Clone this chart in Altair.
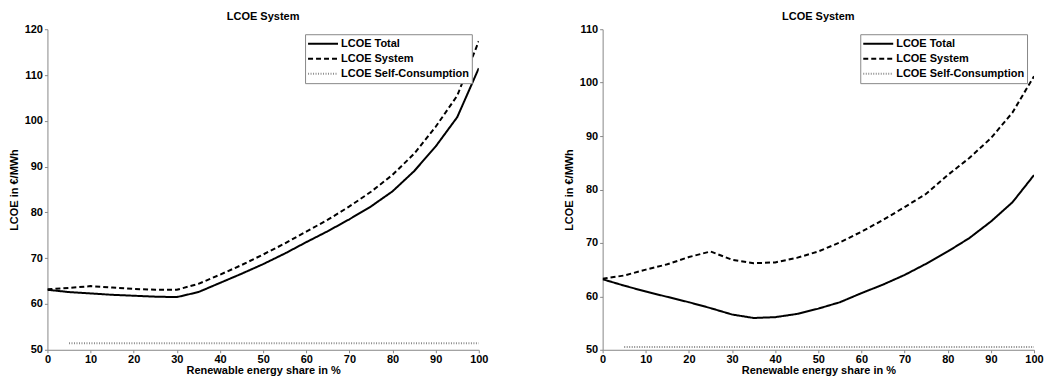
import altair as alt
import pandas as pd

share = [0, 5, 10, 15, 20, 25, 30, 35, 40, 45, 50, 55, 60, 65, 70, 75, 80, 85, 90, 95, 100]
self_share = [5, 10, 15, 20, 25, 30, 35, 40, 45, 50, 55, 60, 65, 70, 75, 80, 85, 90, 95, 100]

left_total = [63.1, 62.6, 62.3, 62.0, 61.8, 61.6, 61.5, 62.6, 64.6, 66.6, 68.7, 71.0, 73.5,
              75.9, 78.5, 81.3, 84.6, 89.0, 94.4, 100.8, 111.5]
left_system = [63.2, 63.5, 63.9, 63.6, 63.3, 63.1, 63.1, 64.4, 66.4, 68.5, 70.8, 73.2, 75.8,
               78.4, 81.3, 84.5, 88.2, 92.8, 98.7, 105.5, 117.4]
left_self = [51.4, 51.4, 51.4, 51.4, 51.4, 51.4, 51.4, 51.4, 51.4, 51.4, 51.4, 51.4, 51.4,
             51.4, 51.4, 51.4, 51.4, 51.4, 51.4, 51.4]

right_total = [63.2, 62.0, 60.9, 59.9, 58.9, 57.8, 56.6, 55.95, 56.1, 56.7, 57.7, 58.9, 60.6,
               62.2, 64.0, 66.1, 68.4, 70.9, 74.0, 77.6, 82.7]
right_system = [63.3, 63.9, 65.0, 66.0, 67.35, 68.4, 66.85, 66.2, 66.35, 67.2, 68.4, 70.1, 72.1,
                74.3, 76.7, 79.2, 82.7, 85.9, 89.6, 94.4, 101.2]
right_self = [50.5, 50.5, 50.5, 50.5, 50.5, 50.5, 50.5, 50.5, 50.5, 50.5, 50.5, 50.5, 50.5,
              50.5, 50.5, 50.5, 50.5, 50.5, 50.5, 50.5]

names = ["LCOE Total", "LCOE System", "LCOE Self-Consumption"]
x_ticks = [0, 10, 20, 30, 40, 50, 60, 70, 80, 90, 100]
left_y_ticks = [50, 60, 70, 80, 90, 100, 110, 120]
right_y_ticks = [50, 60, 70, 80, 90, 100, 110]


def long_df(total, system, selfc):
    rows = []
    for x, v in zip(share, total):
        rows.append({"share": x, "value": v, "series": names[0]})
    for x, v in zip(share, system):
        rows.append({"share": x, "value": v, "series": names[1]})
    for x, v in zip(self_share, selfc):
        rows.append({"share": x, "value": v, "series": names[2]})
    return pd.DataFrame(rows)


FONT = "Liberation Sans"


def make_legend():
    return alt.Legend(
        title=None, orient="none", legendX=258, legendY=5,
        symbolType="stroke", symbolSize=900, symbolStrokeWidth=2,
        labelFontSize=11, labelFontWeight="bold", labelFont=FONT, labelColor="#000",
        strokeColor="#888", fillColor="white", padding=2, rowPadding=0,
        clipHeight=15, labelLimit=250, labelOffset=2,
    )


def panel(df, ymax, yticks):
    return alt.Chart(df).mark_line(clip=True).encode(
        x=alt.X("share:Q", scale=alt.Scale(domain=[0, 100], nice=False),
                axis=alt.Axis(values=x_ticks, title="Renewable energy share in %")),
        y=alt.Y("value:Q", scale=alt.Scale(domain=[50, ymax], nice=False),
                axis=alt.Axis(values=yticks, title="LCOE in €/MWh")),
        color=alt.Color("series:N", sort=names,
                        scale=alt.Scale(domain=names, range=["#000000", "#000000", "#8c8c8c"]),
                        legend=make_legend()),
        strokeDash=alt.StrokeDash("series:N", sort=names,
                                  scale=alt.Scale(domain=names, range=[[1, 0], [5, 3], [1, 1.5]]),
                                  legend=make_legend()),
        strokeWidth=alt.StrokeWidth("series:N", sort=names,
                                    scale=alt.Scale(domain=names, range=[2, 2, 1.5]),
                                    legend=None),
        order=alt.Order("share:Q"),
    ).properties(
        width=432, height=321,
        title=alt.TitleParams("LCOE System", fontSize=11, fontWeight="bold", font=FONT,
                              color="#000", offset=1),
    )


left = panel(long_df(left_total, left_system, left_self), 120, left_y_ticks)
right = panel(long_df(right_total, right_system, right_self), 110, right_y_ticks)

chart = alt.hconcat(left, right, spacing=124, bounds="flush").resolve_scale(
    color="independent", strokeDash="independent", strokeWidth="independent"
).resolve_legend(
    color="independent", strokeDash="independent"
).properties(
    padding={"left": 7.5, "top": 11, "right": 0, "bottom": 0}
).configure_view(stroke=None).configure_axis(
    grid=False, domainColor="#888", tickColor="#888", tickSize=3,
    labelFont=FONT, labelFontSize=11, labelFontWeight="bold", labelColor="#000",
    titleFont=FONT, titleFontSize=11, titleFontWeight="bold", titleColor="#000",
).configure_axisX(labelPadding=1, titlePadding=0, labelFlush=False).configure_axisY(
    labelPadding=2, titlePadding=5
)

chart.save("out.html", embed_options={"renderer": "svg", "actions": False})
